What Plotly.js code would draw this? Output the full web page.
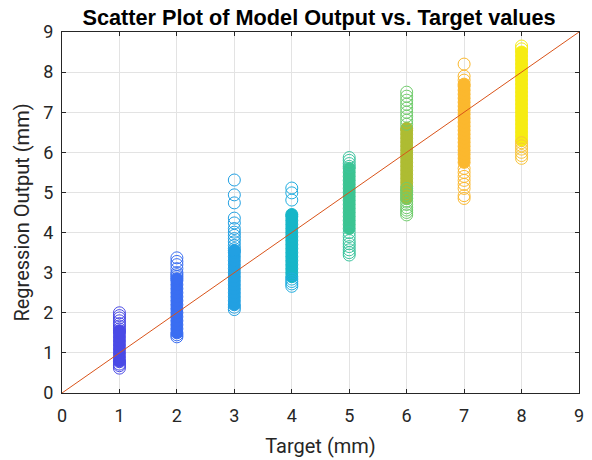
<!DOCTYPE html>
<html>
<head>
<meta charset="utf-8">
<script src="https://cdn.plot.ly/plotly-3.0.1.min.js"></script>
<style>html,body{margin:0;padding:0;background:#fff;}#chart{width:592px;height:460px;}</style>
</head>
<body>
<div id="chart"></div>
<script>
// Target classes (mm)
const targets = [1, 2, 3, 4, 5, 6, 7, 8];

// Regression outputs per target class (mm).
// "Core" = densely overlapping part of each column, "Tail" = separate outlying circles.
const yCore1 = [0.8, 0.9, 1.0, 1.1, 1.2, 1.3, 1.4, 1.5, 1.55];
const yTail1 = [0.62, 0.68, 0.72, 0.78, 1.6, 1.67, 1.73, 1.8, 1.87, 1.93, 2.0];
const yCore2 = [1.5, 1.6, 1.7, 1.8, 1.9, 2.0, 2.1, 2.2, 2.3, 2.4, 2.5, 2.6, 2.7, 2.8, 2.85];
const yTail2 = [1.4, 1.45, 2.9, 2.95, 3.0, 3.1, 3.2, 3.28, 3.37];
const yCore3 = [2.2, 2.3, 2.4, 2.5, 2.6, 2.7, 2.8, 2.9, 3.0, 3.1, 3.2, 3.3, 3.4, 3.5, 3.55];
const yTail3 = [2.08, 2.14, 3.6, 3.68, 3.77, 3.85, 3.93, 4.01, 4.1, 4.24, 4.36, 4.74, 4.94, 5.31];
const yCore4 = [2.9, 3.0, 3.1, 3.2, 3.3, 3.4, 3.5, 3.6, 3.7, 3.8, 3.9, 4.0, 4.1, 4.2, 4.3, 4.4, 4.45];
const yTail4 = [2.66, 2.72, 2.78, 2.84, 4.81, 4.99, 5.11];
const yCore5 = [4.1, 4.2, 4.3, 4.4, 4.5, 4.6, 4.7, 4.8, 4.9, 5.0, 5.1, 5.2, 5.3, 5.4, 5.5, 5.6];
const yTail5 = [3.44, 3.5, 3.57, 3.65, 3.72, 3.8, 3.9, 4.0, 5.65, 5.72, 5.8, 5.87];
const yCore6 = [4.85, 4.95, 5.05, 5.15, 5.25, 5.35, 5.45, 5.55, 5.65, 5.75, 5.85, 5.95, 6.05, 6.15, 6.25, 6.35, 6.45, 6.55, 6.6];
const yTail6 = [4.44, 4.5, 4.56, 4.62, 4.7, 4.78, 4.86, 4.94, 5.02, 5.1, 6.7, 6.8, 6.9, 7.0, 7.1, 7.2, 7.3, 7.4, 7.5];
const yCore7 = [5.75, 5.85, 5.95, 6.05, 6.15, 6.25, 6.35, 6.45, 6.55, 6.65, 6.75, 6.85, 6.95, 7.05, 7.15, 7.25, 7.35, 7.45, 7.55, 7.65, 7.7];
const yTail7 = [4.85, 4.92, 5.1, 5.2, 5.3, 5.4, 5.5, 5.6, 7.8, 7.9, 8.2];
const yCore8 = [6.3, 6.4, 6.5, 6.6, 6.7, 6.8, 6.9, 7.0, 7.1, 7.2, 7.3, 7.4, 7.5, 7.6, 7.7, 7.8, 7.9, 8.0, 8.1, 8.2, 8.3, 8.4, 8.5];
const yTail8Low = [5.85, 5.92, 6.0, 6.08, 6.16, 6.24];
const yTail8High = [8.58, 8.65];

// Ideal line y = x
const idealX = [0, 9];
const idealY = [0, 9];

const groups = [
  {t: targets[0], core: yCore1, tail: yTail1, color: '#4a4ae6', tailColor: '#4a4ae6'},
  {t: targets[1], core: yCore2, tail: yTail2, color: '#3a6ef2', tailColor: '#3a6ef2'},
  {t: targets[2], core: yCore3, tail: yTail3, color: '#22a0e2', tailColor: '#22a0e2'},
  {t: targets[3], core: yCore4, tail: yTail4, color: '#16b6c8', tailColor: '#22aee0'},
  {t: targets[4], core: yCore5, tail: yTail5, color: '#3cc492', tailColor: '#3cc49e'},
  {t: targets[5], core: yCore6, tail: yTail6, color: '#aebc32', tailColor: '#70cc6c'},
  {t: targets[6], core: yCore7, tail: yTail7, color: '#fbb82e', tailColor: '#fbb82e'},
  {t: targets[7], core: yCore8, tail: yTail8Low, color: '#f6ec12', tailColor: '#f8c43a'},
  {t: targets[7], core: [], tail: yTail8High, color: '#f6ec12', tailColor: '#f6ec12'}
];

const traces = [];
groups.forEach(g => {
  if (g.core.length) traces.push({
    type: 'scatter', mode: 'markers',
    x: g.core.map(() => g.t), y: g.core,
    marker: {symbol: 'circle', size: 12, color: g.color, line: {width: 1, color: g.color}},
    hoverinfo: 'skip', showlegend: false
  });
  traces.push({
    type: 'scatter', mode: 'markers',
    x: g.tail.map(() => g.t), y: g.tail,
    marker: {symbol: 'circle-open', size: 12, color: g.tailColor, line: {width: 1, color: g.tailColor}},
    hoverinfo: 'skip', showlegend: false
  });
});

traces.push({
  type: 'scatter', mode: 'lines', x: idealX, y: idealY,
  line: {color: '#d95319', width: 1}, showlegend: false, hoverinfo: 'skip'
});

const axisCommon = {
  range: [0, 9], dtick: 1, tick0: 0,
  showgrid: true, gridcolor: '#e3e3e3', gridwidth: 1,
  zeroline: false, showline: true, linecolor: '#262626', linewidth: 1,
  mirror: 'ticks', ticks: 'inside', ticklen: 4, tickcolor: '#262626',
  tickfont: {family: 'Roboto, sans-serif', size: 18, color: '#262626'}
};

const layout = {
  width: 592, height: 460,
  paper_bgcolor: '#ffffff', plot_bgcolor: '#ffffff',
  margin: {l: 62, r: 13, t: 32, b: 67},
  font: {family: 'Roboto, sans-serif', color: '#262626'},
  title: {text: '<b>Scatter Plot of Model Output vs. Target values</b>', x: 0.539, xanchor: 'center', y: 0.962, yanchor: 'middle',
          font: {family: 'Liberation Sans, Arial, sans-serif', size: 21.7, color: '#000000'}},
  xaxis: Object.assign({}, axisCommon, {ticklabelstandoff: 6, title: {text: 'Target (mm)', standoff: 14, font: {family: 'Roboto, sans-serif', size: 20, color: '#262626'}}}),
  yaxis: Object.assign({}, axisCommon, {ticklabelstandoff: 4, title: {text: 'Regression Output (mm)', standoff: 8, font: {family: 'Roboto, sans-serif', size: 20, color: '#262626'}}})
};

Plotly.newPlot('chart', traces, layout, {displayModeBar: false, staticPlot: true});
</script>
</body>
</html>
